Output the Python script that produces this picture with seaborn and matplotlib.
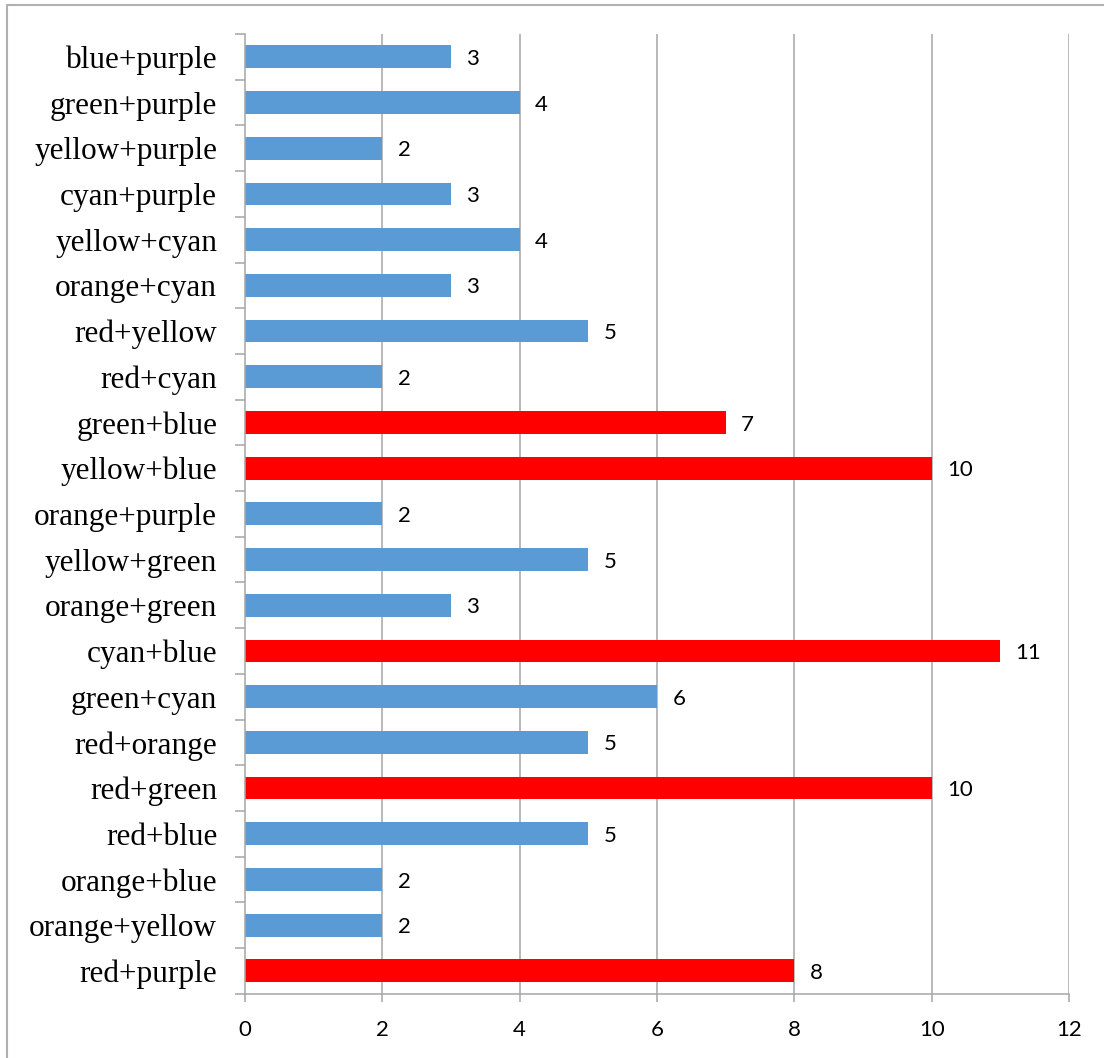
import matplotlib
matplotlib.use("Agg")
import matplotlib.pyplot as plt
from matplotlib.ticker import FixedLocator
from matplotlib.lines import Line2D
import seaborn as sns
import pandas as pd

categories = [
    "blue+purple", "green+purple", "yellow+purple", "cyan+purple",
    "yellow+cyan", "orange+cyan", "red+yellow", "red+cyan",
    "green+blue", "yellow+blue", "orange+purple", "yellow+green",
    "orange+green", "cyan+blue", "green+cyan", "red+orange",
    "red+green", "red+blue", "orange+blue", "orange+yellow", "red+purple",
]
counts = [3, 4, 2, 3, 4, 3, 5, 2, 7, 10, 2, 5, 3, 11, 6, 5, 10, 5, 2, 2, 8]
highlighted = [False, False, False, False, False, False, False, False,
               True, True, False, False, False, True, False, False,
               True, False, False, False, True]
x_ticks = [0, 2, 4, 6, 8, 10, 12]

df = pd.DataFrame({
    "pair": categories,
    "count": counts,
    "group": ["high" if h else "normal" for h in highlighted],
})

sns.set_theme(style="white")
W, H = 1104, 1058
fig = plt.figure(figsize=(W / 100, H / 100), dpi=100)
ax = fig.add_axes([245 / W, 1 - 993.7 / H, (1069 - 245) / W, (993.7 - 34) / H])

sns.barplot(
    data=df, x="count", y="pair", hue="group", order=categories,
    palette={"normal": "#5B9BD5", "high": "#FF0000"}, saturation=1,
    dodge=False, width=0.5, linewidth=0, legend=False, ax=ax,
)

ax.set_xlim(0, 12)
ax.set_ylim(len(categories) - 0.5, -0.5)
ax.set_xticks(x_ticks)
ax.set_xticklabels([str(t) for t in x_ticks])
ax.set_xlabel("")
ax.set_ylabel("")

grid_c = "#A6A6A6"
ax.grid(False)
for t in x_ticks[1:]:
    ax.axvline(t, color=grid_c, lw=1.1, zorder=0)

for side in ("top", "right"):
    ax.spines[side].set_visible(False)
for side in ("left", "bottom"):
    ax.spines[side].set_visible(True)
    ax.spines[side].set_color(grid_c)
    ax.spines[side].set_linewidth(1.1)

# tick marks sit between categories on the y axis
ax.yaxis.set_minor_locator(FixedLocator([i - 0.5 for i in range(len(categories) + 1)]))
ax.tick_params(axis="y", which="major", length=0, pad=20)
ax.tick_params(axis="y", which="minor", left=True, length=7, width=1.1, color=grid_c)
ax.tick_params(axis="x", which="major", bottom=True, length=6, width=1.1, color=grid_c, pad=13)

for lab in ax.get_yticklabels():
    lab.set_fontfamily("Liberation Serif")
    lab.set_fontsize(22.5)
    lab.set_color("black")
for lab in ax.get_xticklabels():
    lab.set_fontfamily("Lato")
    lab.set_fontsize(16)
    lab.set_color("black")

for i, v in enumerate(counts):
    ax.annotate(str(v), xy=(v, i), xytext=(11, -1.5), textcoords="offset points",
                ha="left", va="center", fontsize=16, family="Lato", color="black")

# outer chart border (left and top edges)
fig.add_artist(Line2D([7 / W, 7 / W], [0, 1 - 5 / H], transform=fig.transFigure,
                      color="#B0B0B0", lw=1.5))
fig.add_artist(Line2D([7 / W, 1], [1 - 5 / H, 1 - 5 / H], transform=fig.transFigure,
                      color="#B0B0B0", lw=1.5))

fig.savefig("out.png", dpi=100, facecolor="white")
